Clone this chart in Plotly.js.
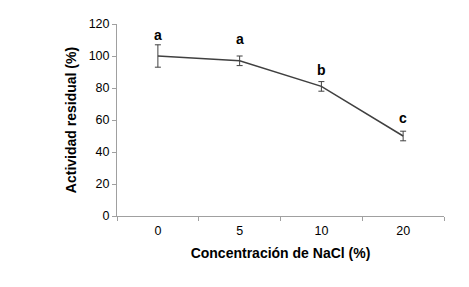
<!DOCTYPE html>
<html>
<head>
<script src="https://cdn.plot.ly/plotly-3.0.1.min.js"></script>
<style>body{margin:0;padding:0;background:#fff}#chart{width:469px;height:287px}</style>
</head>
<body>
<div id="chart"></div>
<script>
const categories = ["0", "5", "10", "20"];
const actividad = [100, 97, 81, 50];
const errores = [7, 3, 3, 3];
const letras = ["a", "a", "b", "c"];
const letraY = [113, 110.5, 91, 61];

const trace = {
  x: categories,
  y: actividad,
  type: "scatter",
  mode: "lines",
  line: {color: "#404040", width: 1.5},
  error_y: {type: "data", array: errores, visible: true, color: "#404040", thickness: 1, width: 3},
  hoverinfo: "none"
};

const annotations = categories.map((c, i) => ({
  x: i, y: letraY[i], xref: "x", yref: "y", text: "<b>" + letras[i] + "</b>",
  showarrow: false, font: {family: "Liberation Sans, Arial, sans-serif", size: 14, color: "#000"}
}));

const layout = {
  width: 469, height: 287,
  margin: {l: 117, r: 25, t: 24, b: 71},
  paper_bgcolor: "#fff", plot_bgcolor: "#fff",
  showlegend: false,
  font: {family: "Liberation Sans, Arial, sans-serif", size: 12.5, color: "#000"},
  xaxis: {
    type: "category", range: [-0.5, 3.5],
    showgrid: false, zeroline: false,
    showline: true, linecolor: "#a0a0a0", linewidth: 1,
    ticks: "outside", tickson: "boundaries", ticklen: 4, tickcolor: "#a0a0a0",
    ticklabelstandoff: 3,
    tickfont: {size: 12.5},
    title: {text: "<b>Concentración de NaCl (%)</b>", font: {size: 14}, standoff: 11}
  },
  yaxis: {
    range: [0, 120], dtick: 20,
    showgrid: false, zeroline: false,
    showline: true, linecolor: "#a0a0a0", linewidth: 1,
    ticks: "outside", ticklen: 4, tickcolor: "#a0a0a0",
    tickfont: {size: 12.5},
    title: {text: "<b>Actividad residual (%)</b>", font: {size: 14}, standoff: 8}
  },
  annotations: annotations
};

Plotly.newPlot("chart", [trace], layout, {staticPlot: true, displayModeBar: false});
</script>
</body>
</html>
